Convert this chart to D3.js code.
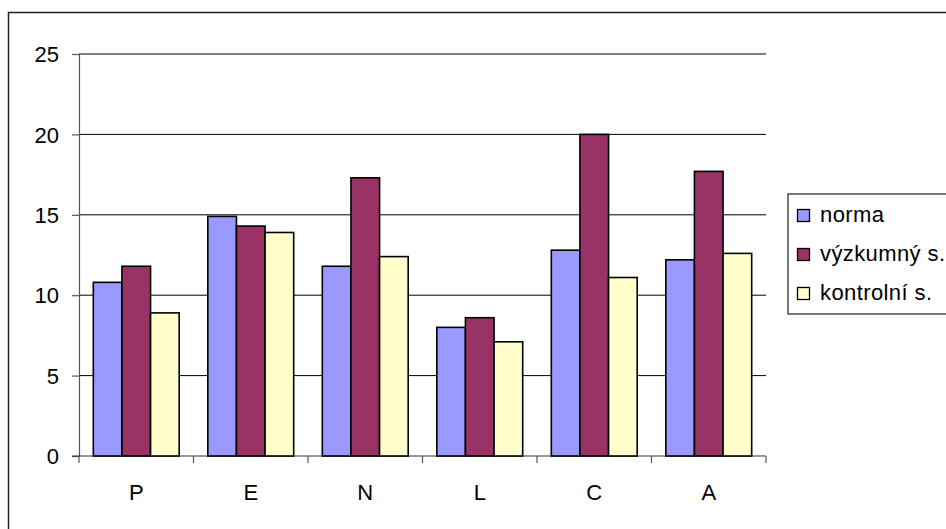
<!DOCTYPE html>
<html>
<head>
<meta charset="utf-8">
<script src="https://cdn.jsdelivr.net/npm/d3@7/dist/d3.min.js"></script>
<style>
  html, body { margin: 0; padding: 0; background: #fff; }
  svg { display: block; font-family: "Liberation Sans", Arial, sans-serif; }
</style>
</head>
<body>
<svg id="chart" width="946" height="529"></svg>
<script>
// Category labels along the x axis
const categories = ["P", "E", "N", "L", "C", "A"];

// Series names and their values per category
const seriesNames = ["norma", "výzkumný s.", "kontrolní s."];
const norma = [10.8, 14.9, 11.8, 8.0, 12.8, 12.2];
const vyzkumny = [11.8, 14.3, 17.3, 8.6, 20.0, 17.7];
const kontrolni = [8.9, 13.9, 12.4, 7.1, 11.1, 12.6];
const seriesValues = [norma, vyzkumny, kontrolni];
const seriesColors = ["#9999FF", "#993366", "#FFFFCC"];

// Value axis ticks
const yTicks = [0, 5, 10, 15, 20, 25];

const svg = d3.select("#chart");

// Outer chart frame
svg.append("rect")
  .attr("x", 8.5).attr("y", 12.5)
  .attr("width", 1000).attr("height", 600)
  .attr("fill", "#fff")
  .attr("stroke", "#222").attr("stroke-width", 1.5);

const plot = { left: 79, right: 766, top: 54, bottom: 456 };

const y = d3.scaleLinear().domain([0, 25]).range([plot.bottom, plot.top]);
const x0 = d3.scaleBand().domain(categories).range([plot.left, plot.right]).padding(0);
const bw = x0.bandwidth();
const x1 = d3.scaleBand().domain(seriesNames).range([bw / 8, bw * 7 / 8]).padding(0);

// Horizontal gridlines
svg.append("g")
  .selectAll("line")
  .data(yTicks.filter(d => d > 0))
  .join("line")
  .attr("x1", plot.left).attr("x2", plot.right)
  .attr("y1", d => y(d)).attr("y2", d => y(d))
  .attr("stroke", "#000").attr("stroke-width", 1);

// Y axis
const yAxis = d3.axisLeft(y).tickValues(yTicks).tickSize(7).tickPadding(13);
const gy = svg.append("g").attr("transform", `translate(${plot.left},0)`).call(yAxis);
gy.select(".domain").attr("stroke", "#555").attr("stroke-width", 1.2);
gy.selectAll(".tick line").attr("stroke", "#555").attr("stroke-width", 1.2);
gy.selectAll(".tick text")
  .attr("font-size", 22).attr("fill", "#000")
  .attr("font-family", "'Liberation Sans', Arial, sans-serif")
  .attr("dy", "0.35em");

// X axis with tick marks between categories
const xTickPos = categories.map(c => x0(c)).concat([plot.right]);
const gx = svg.append("g");
gx.append("line")
  .attr("x1", plot.left - 7).attr("x2", plot.right)
  .attr("y1", plot.bottom).attr("y2", plot.bottom)
  .attr("stroke", "#333").attr("stroke-width", 1.2);
gx.selectAll("line.tk")
  .data(xTickPos)
  .join("line")
  .attr("class", "tk")
  .attr("x1", d => d).attr("x2", d => d)
  .attr("y1", plot.bottom).attr("y2", plot.bottom + 7)
  .attr("stroke", "#555").attr("stroke-width", 1.2);
gx.selectAll("text")
  .data(categories)
  .join("text")
  .attr("x", d => x0(d) + bw / 2)
  .attr("y", 500)
  .attr("text-anchor", "middle")
  .attr("font-size", 22)
  .text(d => d);

// Bars
const groups = svg.append("g")
  .selectAll("g")
  .data(categories)
  .join("g")
  .attr("transform", d => `translate(${x0(d)},0)`);

groups.selectAll("rect")
  .data((c, i) => seriesNames.map((s, j) => ({ s, v: seriesValues[j][i], color: seriesColors[j] })))
  .join("rect")
  .attr("x", d => x1(d.s))
  .attr("width", x1.bandwidth())
  .attr("y", d => y(d.v))
  .attr("height", d => y(0) - y(d.v))
  .attr("fill", d => d.color)
  .attr("stroke", "#000")
  .attr("stroke-width", 1.6);

// Legend
const legend = svg.append("g");
legend.append("rect")
  .attr("x", 788).attr("y", 194)
  .attr("width", 200).attr("height", 120)
  .attr("fill", "#fff")
  .attr("stroke", "#222").attr("stroke-width", 1.2);

const items = legend.selectAll("g")
  .data(seriesNames)
  .join("g")
  .attr("transform", (d, i) => `translate(0,${222 + i * 39})`);
items.append("rect")
  .attr("x", 797.5).attr("y", -12.5)
  .attr("width", 12).attr("height", 12)
  .attr("fill", (d, i) => seriesColors[i])
  .attr("stroke", "#000").attr("stroke-width", 1.3);
items.append("text")
  .attr("x", 820).attr("y", 0)
  .attr("font-size", 22)
  .attr("letter-spacing", 0.4)
  .text(d => d);
</script>
</body>
</html>
